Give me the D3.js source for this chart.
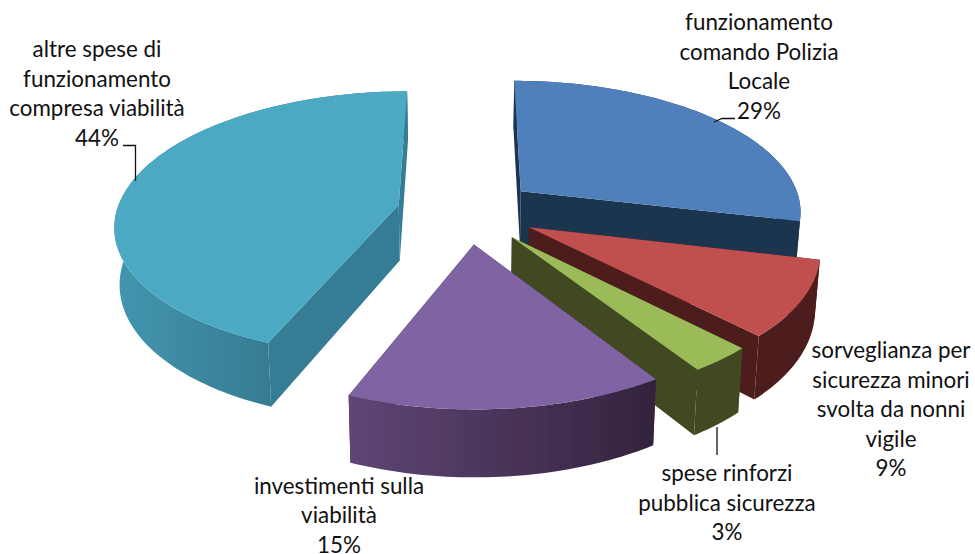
<!DOCTYPE html>
<html>
<head>
<meta charset="utf-8">
<script src="https://cdn.jsdelivr.net/npm/d3@7"></script>
<style>
    html, body { margin: 0; padding: 0; background: #fff; }
    svg { display: block; }
    .lbl { font-family: Lato, "Open Sans", sans-serif; font-size: 22.4px; fill: #111; text-anchor: middle; }
</style>
</head>
<body>
<div id="chart"></div>
<script>
(function() {

    // data
    var categories = [
        ['funzionamento', 'comando Polizia', 'Locale'],
        ['sorveglianza per', 'sicurezza minori', 'svolta da nonni', 'vigile'],
        ['spese rinforzi', 'pubblica sicurezza'],
        ['investimenti sulla', 'viabilità'],
        ['altre spese di', 'funzionamento', 'compresa viabilità']
    ];
    var values = [28.7, 9.05, 3.1, 15.25, 43.9];

    // colours per slice: top, straight walls, curved wall left and right
    var topColors = ['#4f80bc', '#c0504d', '#9bbb59', '#8064a2', '#4ba9c4'];
    var sideColors = ['#1f3550', '#4e1f1e', '#3f4a23', '#35253f', '#367d94'];
    var rimLeft = ['#1f3550', '#4e1f1e', '#3f4a23', '#5f4676', '#4396af'];
    var rimRight = ['#1f3550', '#4e1f1e', '#3f4a23', '#33233d', '#367c92'];

    // label anchors: centre x, baseline of first line
    var labelPos = [[759, 30], [891, 358], [727, 481], [339, 493.5], [97, 57]];
    var lineStep = 29.5;

    var leaders = [
        [[714, 122], [722, 118.5], [735, 118.5]],
        [],
        [[717, 427], [717, 455]],
        [],
        [[123, 145.5], [135.5, 145.5], [135.5, 181]]
    ];

    var width = 975;
    var height = 554;

    // 3d pie settings
    var cx = 467, cy = 211;
    var R = 282;       // radius
    var burst = 70;    // explosion distance
    var tilt = 0.465;  // squash of the ground plane
    var persp = 0.0005;
    var depth = 56;
    var shrink = 0.985; // bottom face is a bit narrower

    function scaleAt(Y) { return 1 / (1 + persp * Y); }

    // point on a slice, angle from 12 o'clock clockwise
    function project(d, angle, r, bottom) {
        var mid = (d.startAngle + d.endAngle) / 2;
        var X = burst * Math.sin(mid) + r * Math.sin(angle);
        var Y = burst * Math.cos(mid) + r * Math.cos(angle);
        var s = scaleAt(Y);
        var x = X * s;
        var y = -Y * tilt * s;
        if (bottom) {
            x = x * shrink;
            y = y + depth * s;
        }
        return [cx + x, cy + y];
    }

    function arcPoints(d, bottom) {
        var n = Math.max(4, Math.ceil((d.endAngle - d.startAngle) / 0.02));
        return d3.range(n + 1).map(function(i) {
            return project(d, d.startAngle + (d.endAngle - d.startAngle) * i / n, R, bottom);
        });
    }

    var line = d3.line().curve(d3.curveLinear);

    var pie = d3.pie().sort(null).value(function(d) { return d; });
    var slices = pie(values);
    slices.forEach(function(d, i) { d.idx = i; });

    var svg = d3.select('#chart').append('svg')
        .attr('width', width)
        .attr('height', height);

    var defs = svg.append('defs');

    defs.append('filter')
        .attr('id', 'soft')
        .attr('x', '-5%').attr('y', '-5%').attr('width', '110%').attr('height', '110%')
        .append('feGaussianBlur')
        .attr('stdDeviation', 0.45);

    slices.forEach(function(d, i) {
        var pts = arcPoints(d, false);
        var grad = defs.append('linearGradient')
            .attr('id', 'rim' + i)
            .attr('gradientUnits', 'userSpaceOnUse')
            .attr('x1', d3.min(pts, function(p) { return p[0]; }))
            .attr('x2', i === 4 ? pts[0][0] : d3.max(pts, function(p) { return p[0]; }))
            .attr('y1', 0)
            .attr('y2', 0);
        grad.append('stop').attr('offset', 0).attr('stop-color', rimLeft[i]);
        grad.append('stop').attr('offset', 1).attr('stop-color', rimRight[i]);
    });

    var pieGroup = svg.append('g').attr('filter', 'url(#soft)');

    // far slices first
    var order = slices.slice().sort(function(a, b) {
        return Math.cos((b.startAngle + b.endAngle) / 2) - Math.cos((a.startAngle + a.endAngle) / 2);
    });

    var groups = pieGroup.selectAll('g.slice')
        .data(order)
        .enter()
        .append('g')
        .attr('class', 'slice');

    // straight walls
    groups.each(function(d) {
        var g = d3.select(this);
        [d.startAngle, d.endAngle].forEach(function(a) {
            var wall = [
                project(d, a, 0, false),
                project(d, a, R, false),
                project(d, a, R, true),
                project(d, a, 0, true)
            ];
            g.append('path')
                .attr('d', line(wall) + 'Z')
                .style('fill', sideColors[d.idx]);
        });
    });

    // curved wall, one quad per step so the side silhouette gets filled too
    groups.append('path')
        .attr('d', function(d) {
            var up = arcPoints(d, false);
            var down = arcPoints(d, true);
            var quads = d3.range(up.length - 1).map(function(i) {
                return line([up[i], up[i + 1], down[i + 1], down[i]]) + 'Z';
            });
            return line(up.concat(down.slice().reverse())) + 'Z' + quads.join('');
        })
        .style('fill', function(d) { return 'url(#rim' + d.idx + ')'; });

    // top face
    groups.append('path')
        .attr('d', function(d) {
            return line([project(d, d.startAngle, 0, false)].concat(arcPoints(d, false))) + 'Z';
        })
        .style('fill', function(d) { return topColors[d.idx]; });

    // leader lines
    svg.selectAll('path.leader')
        .data(leaders)
        .enter()
        .append('path')
        .attr('class', 'leader')
        .attr('d', function(d) { return d.length ? line(d) : null; })
        .style('fill', 'none')
        .style('stroke', '#111')
        .style('stroke-width', 1.3);

    // labels
    var labels = svg.selectAll('text.lbl')
        .data(categories)
        .enter()
        .append('text')
        .attr('class', 'lbl');

    labels.selectAll('tspan')
        .data(function(d, i) {
            return d.concat([Math.round(values[i]) + '%']).map(function(t, j) {
                return { text: t, x: labelPos[i][0], y: labelPos[i][1] + j * lineStep };
            });
        })
        .enter()
        .append('tspan')
        .attr('x', function(d) { return d.x; })
        .attr('y', function(d) { return d.y; })
        .text(function(d) { return d.text; });

})();
</script>
</body>
</html>
